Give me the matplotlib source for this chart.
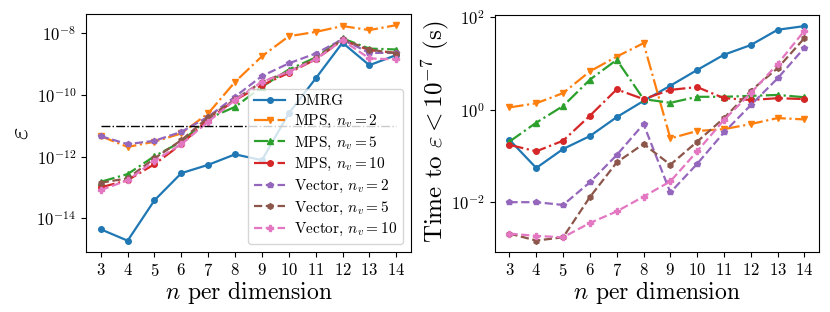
import numpy as np
import matplotlib
matplotlib.use('Agg')
import matplotlib.pyplot as plt

plt.rcParams['font.family'] = 'serif'
plt.rcParams['font.serif'] = ['cmr10']
plt.rcParams['mathtext.fontset'] = 'cm'
plt.rcParams['axes.formatter.use_mathtext'] = True
plt.rcParams['axes.unicode_minus'] = False

n = np.arange(3, 15)

# log10 of error vs n
err_dmrg = [-14.35, -14.72, -13.41, -12.53, -12.26, -11.92, -12.11, -10.59, -9.46, -8.30, -9.03, -8.70]
err_mps2 = [-11.33, -11.68, -11.51, -11.24, -10.59, -9.57, -8.74, -8.09, -7.95, -7.76, -7.89, -7.73]
err_mps5 = [-12.81, -12.56, -11.98, -11.51, -10.76, -10.38, -9.73, -9.17, -8.78, -8.16, -8.49, -8.52]
err_mps10 = [-12.99, -12.76, -12.24, -11.59, -10.79, -10.16, -9.68, -9.28, -8.84, -8.22, -8.54, -8.63]
err_vec2 = [-11.33, -11.59, -11.48, -11.19, -10.70, -10.05, -9.38, -8.97, -8.65, -8.19, -8.63, -8.63]
err_vec5 = [-12.84, -12.70, -12.05, -11.46, -10.72, -10.14, -9.57, -9.24, -8.81, -8.19, -8.52, -8.65]
err_vec10 = [-13.08, -12.76, -12.13, -11.59, -10.86, -10.16, -9.57, -9.24, -8.84, -8.22, -8.81, -8.84]
threshold = 1e-11

# log10 of time to reach eps < 1e-7
t_dmrg = [-0.65, -1.26, -0.85, -0.57, -0.16, 0.19, 0.52, 0.86, 1.19, 1.40, 1.73, 1.81]
t_mps2 = [0.05, 0.14, 0.36, 0.83, 1.15, 1.44, -0.62, -0.46, -0.42, -0.31, -0.18, -0.21]
t_mps5 = [-0.69, -0.28, 0.08, 0.65, 1.08, 0.23, 0.15, 0.28, 0.28, 0.30, 0.32, 0.27]
t_mps10 = [-0.76, -0.90, -0.67, -0.13, 0.44, 0.23, 0.43, 0.49, 0.25, 0.21, 0.25, 0.23]
t_vec2 = [-2.0, -2.0, -2.06, -1.57, -0.98, -0.31, -1.79, -1.17, -0.49, 0.10, 0.68, 1.34]
t_vec5 = [-2.68, -2.83, -2.76, -1.89, -1.14, -0.74, -1.19, -0.69, -0.18, 0.41, 0.90, 1.55]
t_vec10 = [-2.68, -2.73, -2.76, -2.45, -2.20, -1.88, -1.55, -0.90, -0.22, 0.36, 0.99, 1.71]

labels = ['DMRG', r'MPS, $n_v = 2$', r'MPS, $n_v = 5$', r'MPS, $n_v = 10$',
          r'Vector, $n_v = 2$', r'Vector, $n_v = 5$', r'Vector, $n_v = 10$']
colors = ['C0', 'C1', 'C2', 'C3', 'C4', 'C5', 'C6']
markers = ['o', 'v', '^', 'o', 'p', 'h', 'P']
styles = ['-', '-.', '-.', '-.', '--', '--', '--']

errs = [err_dmrg, err_mps2, err_mps5, err_mps10, err_vec2, err_vec5, err_vec10]
times = [t_dmrg, t_mps2, t_mps5, t_mps10, t_vec2, t_vec5, t_vec10]

fig = plt.figure(figsize=(8.3, 3.12), dpi=100)
ax1 = fig.add_axes([0.1036, 0.192, 0.3916, 0.763])
ax2 = fig.add_axes([0.596, 0.192, 0.391, 0.760])

for e, lab, c, m, ls in zip(errs, labels, colors, markers, styles):
    ax1.semilogy(n, 10.0 ** np.array(e), ls, color=c, marker=m, markersize=4, lw=1.6, label=lab)
ax1.plot([n[0], n[-1]], [threshold, threshold], '-.', color='k', lw=1)
ax1.set_ylim(10 ** -15.09, 10 ** -7.37)
ax1.set_yticks([1e-14, 1e-12, 1e-10, 1e-8])
ax1.minorticks_off()
ax1.set_ylabel(r'$\varepsilon$', fontsize=19)
ax1.yaxis.set_label_coords(-0.165, 0.5)
ax1.legend(loc='lower right', fontsize=11, handlelength=2.0, labelspacing=0.3,
           borderpad=0.4, handletextpad=0.6)

for t, c, m, ls in zip(times, colors, markers, styles):
    ax2.semilogy(n, 10.0 ** np.array(t), ls, color=c, marker=m, markersize=4, lw=1.6)
ax2.set_ylim(10 ** -3.08, 10 ** 2.05)
ax2.set_yticks([1e-2, 1e0, 1e2])
ax2.minorticks_off()
ax2.set_ylabel(r'Time to $\varepsilon < 10^{-7}$ (s)', fontsize=18)
ax2.yaxis.set_label_coords(-0.13, 0.51)

for ax in (ax1, ax2):
    ax.set_xticks(n)
    ax.set_xlim(2.45, 14.55)
    ax.tick_params(labelsize=12)
    ax.set_xlabel(r'$n$ per dimension', fontsize=17, labelpad=0)

fig.savefig('out.png', dpi=100)
